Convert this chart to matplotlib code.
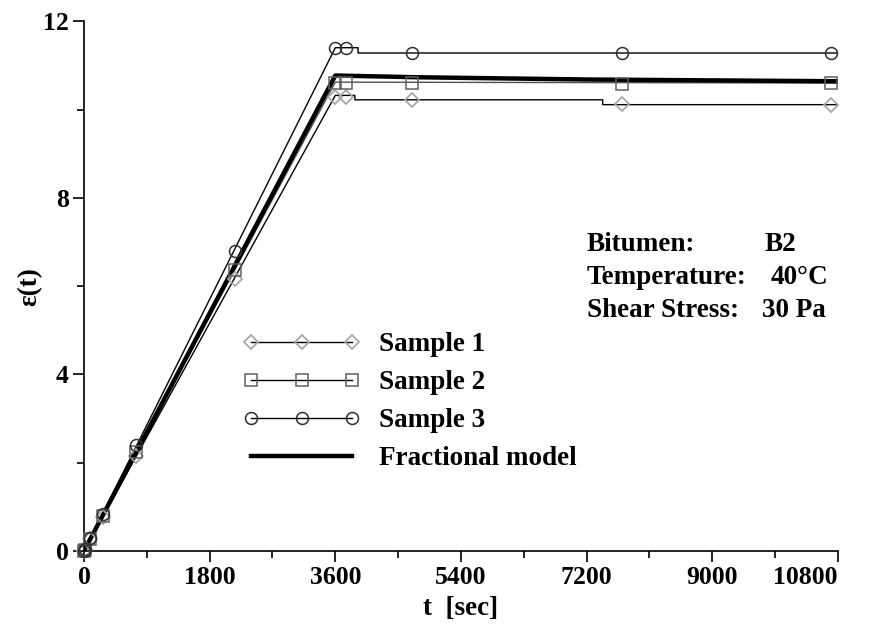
import numpy as np
import matplotlib.pyplot as plt
from matplotlib.lines import Line2D

plt.rcParams['font.family'] = 'Liberation Serif'
plt.rcParams['font.weight'] = 'bold'

# measured points (markers)
t_pts = [0, 10, 90, 270, 750, 2160, 3600, 3750, 4700, 7700, 10700]
s1_pts = [0.0, 0.03, 0.27, 0.78, 2.15, 6.15, 10.29, 10.29, 10.21, 10.12, 10.10]
s2_pts = [0.0, 0.03, 0.28, 0.80, 2.24, 6.37, 10.60, 10.60, 10.59, 10.58, 10.59]
s3_pts = [0.0, 0.04, 0.30, 0.84, 2.40, 6.80, 11.40, 11.40, 11.28, 11.28, 11.28]

# recorded strain curves (instrument resolution gives small steps)
s1_t = [0, 3600, 3880, 3880, 7430, 7430, 10800]
s1_e = [0.0, 10.32, 10.32, 10.22, 10.22, 10.11, 10.11]
s2_t = [0, 3600, 10800]
s2_e = [0.0, 10.62, 10.60]
s3_t = [0, 3600, 3925, 3925, 10800]
s3_e = [0.0, 11.40, 11.40, 11.28, 11.28]

# fractional model
m_t = [0, 3600, 4800, 7200, 10800]
m_e = [0.0, 10.77, 10.73, 10.68, 10.64]

fs = 19.5

fig = plt.figure(figsize=(8.71, 6.24), dpi=100)
ax = fig.add_axes([0.0964, 0.117, 0.8657, 0.849])

ax.plot(s1_t, s1_e, color='black', lw=1.0)
ax.plot(s2_t, s2_e, color='#505050', lw=1.0)
ax.plot(s3_t, s3_e, color='black', lw=1.0)
ax.plot(m_t, m_e, color='black', lw=3.2, zorder=4)

mk1 = dict(marker='D', ms=7.0, mfc='none', mec='#a8a8a8', mew=1.3)
mk2 = dict(marker='s', ms=8.6, mfc='none', mec='#606060', mew=1.1)
mk3 = dict(marker='o', ms=8.6, mfc='none', mec='#303030', mew=1.1)

ax.plot(t_pts, s1_pts, ls='none', clip_on=False, zorder=5, **mk1)
ax.plot(t_pts, s2_pts, ls='none', clip_on=False, zorder=5, **mk2)
ax.plot(t_pts, s3_pts, ls='none', clip_on=False, zorder=5, **mk3)

handles = [
    Line2D([0], [0], color='black', lw=1.0, **mk1),
    Line2D([0], [0], color='black', lw=1.0, **mk2),
    Line2D([0], [0], color='black', lw=1.0, **mk3),
    Line2D([0], [0], color='black', lw=3.2),
]
labels = ['Sample 1', 'Sample 2', 'Sample 3', 'Fractional model']
leg = ax.legend(handles, labels, loc='upper left', bbox_to_anchor=(0.179, 0.459),
                frameon=False, numpoints=3, handlelength=4.3, handletextpad=0.72,
                labelspacing=0.48, prop={'size': fs, 'weight': 'bold'})

ax.text(0.667, 0.566, 'Bitumen:', transform=ax.transAxes, fontsize=fs, fontweight='bold')
ax.text(0.903, 0.566, 'B2', transform=ax.transAxes, fontsize=fs, fontweight='bold')
ax.text(0.667, 0.504, 'Temperature:', transform=ax.transAxes, fontsize=fs, fontweight='bold')
ax.text(0.91, 0.504, '40\u00b0C', transform=ax.transAxes, fontsize=fs, fontweight='bold')
ax.text(0.667, 0.441, 'Shear Stress:', transform=ax.transAxes, fontsize=fs, fontweight='bold')
ax.text(0.899, 0.441, '30 Pa', transform=ax.transAxes, fontsize=fs, fontweight='bold')

ax.set_xlim(0, 10800)
ax.set_ylim(0, 12)
ax.set_xticks(np.arange(0, 10801, 1800))
ax.set_xticks(np.arange(900, 10800, 1800), minor=True)
ax.set_yticks([0, 4, 8, 12])
ax.set_yticks([2, 6, 10], minor=True)
ax.tick_params(which='major', length=8, width=1.2, labelsize=18.5, direction='out', pad=3)
ax.tick_params(which='minor', length=5, width=1.2, direction='out')
for lab in ax.get_xticklabels() + ax.get_yticklabels():
    lab.set_fontweight('bold')
ax.get_xticklabels()[-1].set_horizontalalignment('right')

ax.spines['top'].set_visible(False)
ax.spines['right'].set_visible(False)
ax.spines['left'].set_linewidth(1.2)
ax.spines['bottom'].set_linewidth(1.2)

ax.set_xlabel('t  [sec]', fontsize=fs, fontweight='bold', labelpad=5)
ax.set_ylabel('\u03b5(t)', fontsize=fs, fontweight='bold', labelpad=0)

fig.savefig('out.png', dpi=100)
